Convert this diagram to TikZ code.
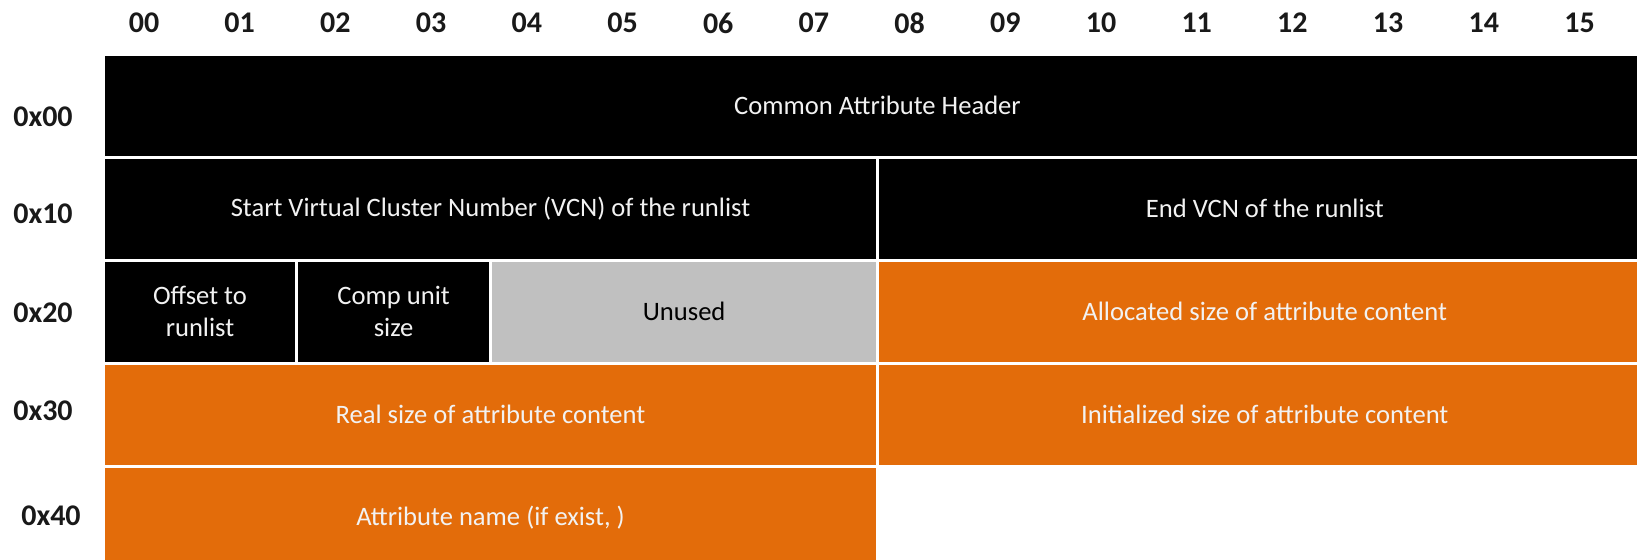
\documentclass[tikz,border=0pt]{standalone}
\usepackage{fontspec}
\setmainfont{Carlito}
\usepackage{tikz}
\usetikzlibrary{positioning}
\definecolor{fldorange}{HTML}{E36C0A}
\definecolor{fldgray}{HTML}{C0C0C0}
\definecolor{fldtext}{HTML}{F2F2F2}

\begin{document}
\begin{tikzpicture}[x=0.5pt, y=-0.5pt,
        fld/.style={rectangle, inner sep=0pt, outer sep=0pt, minimum height=49.85pt, align=center, font=\fontsize{13.3}{16}\selectfont},
        blk/.style={fld, fill=black, text=fldtext},
        org/.style={fld, fill=fldorange, text=fldtext},
        gry/.style={fld, fill=fldgray, text=black},
        half/.style={minimum width=385.5pt},
        lbl/.style={font=\fontsize{15}{18}\selectfont\bfseries, text=black!90}]
            \useasboundingbox (0,0) rectangle (1637,560);

            \foreach \col [count=\i from 0] in {00,01,02,03,04,05,06,07,08,09,10,11,12,13,14,15}
                \node (c\col) [lbl] at (144+95.7*\i, 23) {\col};

            \node (r00) [lbl] at (43, 117) {0x00};
            \node (r10) [lbl] at (43, 214) {0x10};
            \node (r20) [lbl] at (43, 313) {0x20};
            \node (r30) [lbl] at (43, 411) {0x30};
            \node (r40) [lbl] at (51, 516) {0x40};

            \node (hdr) [blk, minimum width=772.5pt, anchor=north west] at (105, 56) {Common Attribute Header};

            \node (svcn) [blk, half, below=1.65pt of hdr.south west, anchor=north west] {Start Virtual Cluster Number (VCN) of the runlist};
            \node (evcn) [blk, half, right=1.65pt of svcn] {End VCN of the runlist};

            \node (offs) [blk, minimum width=95pt, below=1.65pt of svcn.south west, anchor=north west] {Offset to\\runlist};
            \node (comp) [blk, minimum width=95.35pt, right=1.65pt of offs] {Comp unit\\size};
            \node (unused) [gry, minimum width=191.85pt, right=1.65pt of comp] {Unused};
            \node (alloc) [org, half, below=1.65pt of evcn] {Allocated size of attribute content};

            \node (real) [org, half, below=1.65pt of offs.south west, anchor=north west] {Real size of attribute content};
            \node (init) [org, half, below=1.65pt of alloc] {Initialized size of attribute content};

            \node (aname) [org, half, below=1.65pt of real] {Attribute name (if exist, )};
        \end{tikzpicture}
\end{document}
